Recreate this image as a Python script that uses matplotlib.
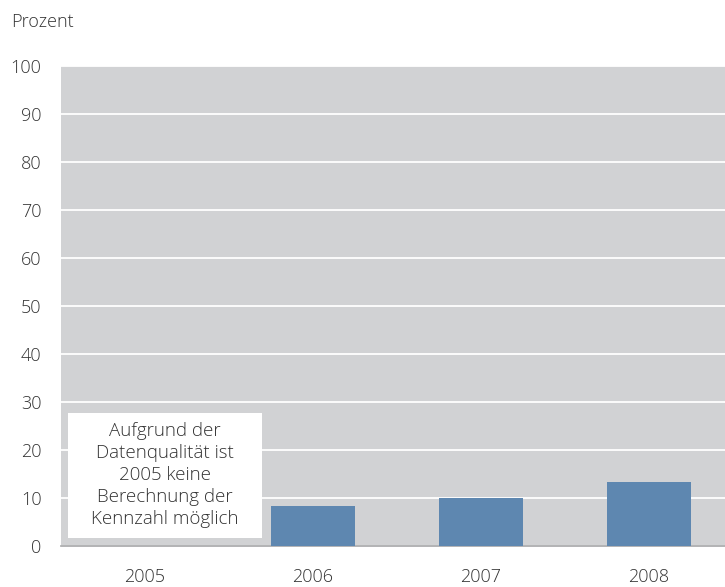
import matplotlib.pyplot as plt
from matplotlib.patches import Rectangle

years = ['2005', '2006', '2007', '2008']
values = [None, 8.3, 10.0, 13.3]
note = 'Aufgrund der\nDatenqualität ist\n2005 keine\nBerechnung der\nKennzahl möglich'

plt.rcParams['font.family'] = ['Open Sans', 'DejaVu Sans']
txt = '#333333'

fig = plt.figure(figsize=(7.25, 5.87), dpi=100)
ax = fig.add_axes([61 / 725, 41 / 587, 672 / 725, 480 / 587])
ax.set_facecolor('#d1d2d4')

xs = list(range(len(years)))
bx = [x for x, v in zip(xs, values) if v is not None]
bv = [v for v in values if v is not None]
ax.bar(bx, bv, width=0.5, color='#5e87b0', zorder=3)

ax.set_xlim(-0.5, 3.5)
ax.set_ylim(0, 100)
ax.set_yticks(range(0, 101, 10))
ax.set_xticks(xs)
ax.set_xticklabels(years)
ax.yaxis.grid(True, color='white', linewidth=1.3, zorder=1)
ax.set_axisbelow(True)
for s in ['top', 'right', 'left']:
    ax.spines[s].set_visible(False)
ax.spines['bottom'].set_color('#a5a6a8')
ax.spines['bottom'].set_linewidth(1.2)
ax.tick_params(axis='both', length=0, labelsize=13, colors=txt)
ax.tick_params(axis='y', pad=14)
ax.tick_params(axis='x', pad=16)
for lab in ax.get_xticklabels() + ax.get_yticklabels():
    lab.set_fontweight('light')

# note box for 2005
ax.add_patch(Rectangle((-0.458, 1.7), 1.154, 26.0, facecolor='white',
                       edgecolor='none', zorder=4))
ax.text(0.12, 14.8, note, ha='center', va='center', fontsize=13.5,
        color=txt, fontweight='light', linespacing=1.3, zorder=5)

fig.text(11 / 725, 1 - 22 / 587, 'Prozent', ha='left', va='center',
         fontsize=13, color=txt, fontweight='light')

fig.savefig('out.png', dpi=100)
